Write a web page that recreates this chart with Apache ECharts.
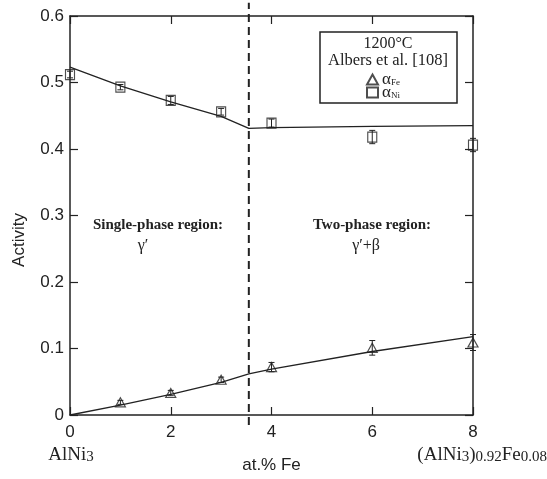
<!DOCTYPE html>
<html>
<head>
<meta charset="utf-8">
<script src="https://cdn.jsdelivr.net/npm/echarts@6/dist/echarts.min.js"></script>
<style>
  html, body { margin: 0; padding: 0; background: #fff; }
  #chart { width: 547px; height: 479px; }
</style>
</head>
<body>
<div id="chart"></div>
<script>
// measured activities (Albers et al.)
const niX = [0, 1, 2, 3, 4, 6, 8]
const aNi = [0.512, 0.493, 0.473, 0.456, 0.439, 0.418, 0.406]
const aNiErr = [0.005, 0.004, 0.006, 0.005, 0.006, 0.010, 0.010]

const feX = [1, 2, 3, 4, 6, 8]
const aFe = [0.019, 0.033, 0.053, 0.072, 0.101, 0.109]
const aFeErr = [0.003, 0.004, 0.004, 0.007, 0.011, 0.012]

// calculated curves
const fitX = [0, 1, 2, 3, 3.55, 4, 6, 8]
const niFit = [0.523, 0.495, 0.471, 0.449, 0.431, 0.432, 0.434, 0.435]
const feFit = [0, 0.015, 0.031, 0.049, 0.062, 0.069, 0.0955, 0.118]

// phase boundary (dashed line runs a little past the frame)
const boundaryX = [3.55, 3.55]
const boundaryY = [-0.015, 0.62]

const xTicks = [0, 2, 4, 6, 8]

const ink = '#222'
const serif = '"Liberation Serif", "DejaVu Serif", serif'
const sans = '"Liberation Sans", Arial, sans-serif'

const chart = echarts.init(document.getElementById('chart'))

const pairs = (xs, ys) => xs.map((x, i) => [x, ys[i]])
const errRows = (xs, ys, es) => xs.map((x, i) => [x, ys[i] - es[i], ys[i] + es[i]])

function errorBar(params, api) {
  const lo = api.coord([api.value(0), api.value(1)])
  const hi = api.coord([api.value(0), api.value(2)])
  const cap = 3
  const style = { stroke: ink, lineWidth: 1 }
  return {
    type: 'group',
    children: [
      { type: 'line', shape: { x1: lo[0], y1: lo[1], x2: hi[0], y2: hi[1] }, style },
      { type: 'line', shape: { x1: lo[0] - cap, y1: lo[1], x2: lo[0] + cap, y2: lo[1] }, style },
      { type: 'line', shape: { x1: hi[0] - cap, y1: hi[1], x2: hi[0] + cap, y2: hi[1] }, style }
    ]
  }
}

function axisBase() {
  return {
    type: 'value',
    axisLine: { show: true, onZero: false, lineStyle: { color: ink, width: 1.5 } },
    axisTick: { show: true, inside: true, length: 8, lineStyle: { color: ink, width: 1.2 } },
    splitLine: { show: false }
  }
}

const subRich = { s: { fontSize: 15, fontFamily: serif, fill: ink, padding: [5, 0, 0, 0] } }

const option = {
  animation: false,
  backgroundColor: '#fff',
  grid: { left: 70, right: 74, top: 16, bottom: 61 },
  xAxis: [
    Object.assign(axisBase(), {
      min: 0, max: 8, interval: 2,
      axisLabel: {
        color: ink, fontSize: 17, fontFamily: sans, margin: 9,
        formatter: v => (xTicks.includes(v) ? String(v) : '')
      },
      name: 'at.% Fe',
      nameLocation: 'middle',
      nameGap: 42,
      nameTextStyle: { color: ink, fontSize: 17, fontFamily: sans }
    }),
    Object.assign(axisBase(), { position: 'top', min: 0, max: 8, interval: 2, axisLabel: { show: false } })
  ],
  yAxis: [
    Object.assign(axisBase(), {
      min: 0, max: 0.6, interval: 0.1,
      axisLabel: {
        color: ink, fontSize: 17, fontFamily: sans, margin: 6,
        formatter: v => (v === 0 ? '0' : String(+v.toFixed(1)))
      }
    }),
    Object.assign(axisBase(), { position: 'right', min: 0, max: 0.6, interval: 0.1, axisLabel: { show: false } })
  ],
  legend: {
    orient: 'vertical',
    left: 361,
    top: 66,
    itemGap: -4,
    itemWidth: 11,
    itemHeight: 10,
    data: ['aFe', 'aNi'],
    formatter: name => (name === 'aFe' ? 'α{s|Fe}' : 'α{s|Ni}'),
    textStyle: {
      color: ink, fontSize: 17, fontFamily: serif, padding: [0, 0, 0, -1],
      rich: { s: { fontSize: 9, fontFamily: serif, color: ink, padding: [6, 0, 0, 0] } }
    }
  },
  graphic: [
    {
      type: 'rect', z: 1,
      shape: { x: 320, y: 32, width: 137, height: 71 },
      style: { fill: '#fff', stroke: ink, lineWidth: 1.5 }
    },
    {
      type: 'text', z: 2, x: 388, y: 44,
      style: { text: '1200°C', font: '16px ' + serif, fill: ink, align: 'center', verticalAlign: 'middle' }
    },
    {
      type: 'text', z: 2, x: 388, y: 61,
      style: { text: 'Albers et al. [108]', font: '16.5px ' + serif, fill: ink, align: 'center', verticalAlign: 'middle' }
    },
    {
      type: 'text', x: 19, y: 240, rotation: Math.PI / 2,
      style: { text: 'Activity', font: '17px ' + sans, fill: ink, align: 'center', verticalAlign: 'middle' }
    },
    {
      type: 'text', x: 158, y: 225,
      style: { text: 'Single-phase region:', font: 'bold 15px ' + serif, fill: ink, align: 'center', verticalAlign: 'middle' }
    },
    {
      type: 'text', x: 143, y: 246,
      style: { text: 'γ′', font: '16px ' + serif, fill: ink, align: 'center', verticalAlign: 'middle' }
    },
    {
      type: 'text', x: 372, y: 225,
      style: { text: 'Two-phase region:', font: 'bold 15px ' + serif, fill: ink, align: 'center', verticalAlign: 'middle' }
    },
    {
      type: 'text', x: 366, y: 246,
      style: { text: 'γ′+β', font: '16px ' + serif, fill: ink, align: 'center', verticalAlign: 'middle' }
    },
    {
      type: 'text', x: 71, y: 455,
      style: {
        text: 'AlNi{s|3}', font: '19px ' + serif, fill: ink, align: 'center', verticalAlign: 'middle',
        rich: subRich
      }
    },
    {
      type: 'text', x: 547, y: 455,
      style: {
        text: '(AlNi{s|3}){s|0.92}Fe{s|0.08}', font: '19px ' + serif, fill: ink, align: 'right', verticalAlign: 'middle',
        rich: subRich
      }
    }
  ],
  series: [
    {
      name: 'boundary', type: 'line', data: pairs(boundaryX, boundaryY),
      showSymbol: false, clip: false, silent: true,
      lineStyle: { color: ink, width: 2, type: [8, 5] }
    },
    {
      name: 'niFit', type: 'line', data: pairs(fitX, niFit),
      showSymbol: false,
      lineStyle: { color: ink, width: 1.3 }
    },
    {
      name: 'feFit', type: 'line', data: pairs(fitX, feFit),
      showSymbol: false,
      lineStyle: { color: ink, width: 1.3 }
    },
    {
      name: 'niErr', type: 'custom', data: errRows(niX, aNi, aNiErr),
      renderItem: errorBar, clip: false, z: 3
    },
    {
      name: 'feErr', type: 'custom', data: errRows(feX, aFe, aFeErr),
      renderItem: errorBar, clip: false, z: 3
    },
    {
      name: 'aNi', type: 'scatter', data: pairs(niX, aNi),
      symbol: 'rect', symbolSize: [9, 10], clip: false, z: 4,
      itemStyle: { color: 'rgba(255,255,255,0)', borderColor: ink, borderWidth: 1.2 }
    },
    {
      name: 'aFe', type: 'scatter', data: pairs(feX, aFe),
      symbol: 'triangle', symbolSize: [10, 9], clip: false, z: 4,
      itemStyle: { color: 'rgba(255,255,255,0)', borderColor: ink, borderWidth: 1.2 }
    }
  ]
}

chart.setOption(option)
</script>
</body>
</html>
